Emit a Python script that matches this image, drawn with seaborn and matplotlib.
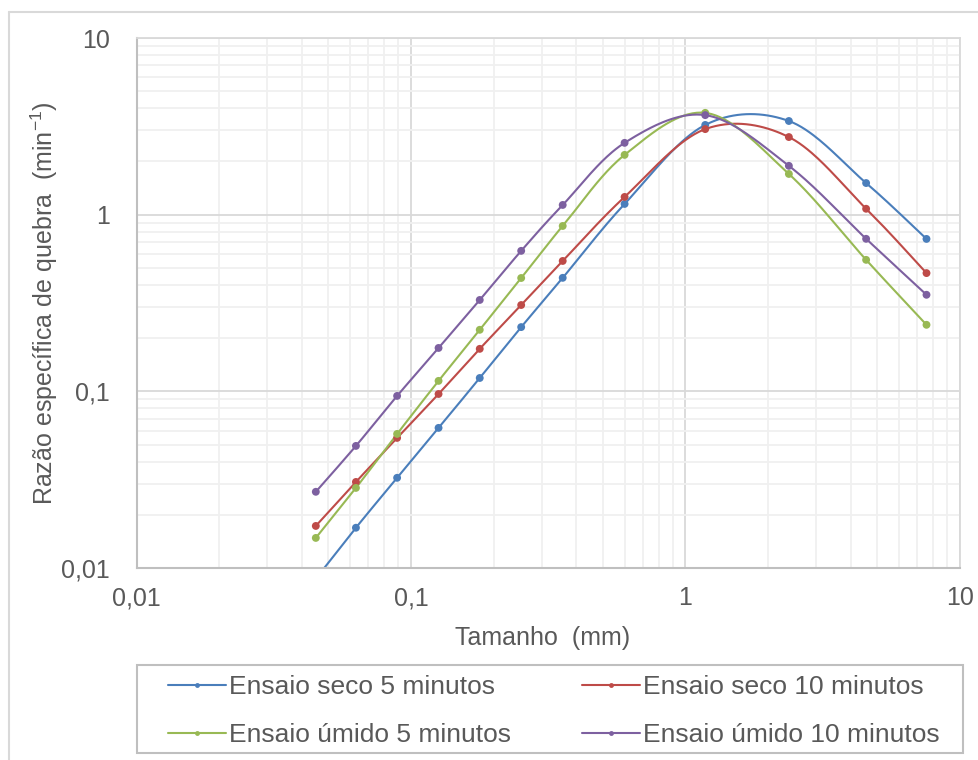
import numpy as np
import pandas as pd
import matplotlib
matplotlib.use("Agg")
import matplotlib.pyplot as plt
import seaborn as sns
from matplotlib.lines import Line2D
from matplotlib.patches import Rectangle
from matplotlib.ticker import FixedLocator, FixedFormatter, LogLocator, NullFormatter

# Particle size (mm) - geometric mean of each sieve interval
tamanho = [0.045, 0.063, 0.089, 0.126, 0.178, 0.252, 0.357, 0.60, 1.18, 2.38, 4.55, 7.55]

# Specific breakage rate (1/min)
seco_5 = [0.0087, 0.0169, 0.0324, 0.0621, 0.119, 0.231, 0.439, 1.15, 3.22, 3.39, 1.51, 0.729]
seco_10 = [0.0173, 0.0307, 0.0545, 0.0966, 0.174, 0.308, 0.547, 1.26, 3.05, 2.75, 1.08, 0.467]
umido_5 = [0.0148, 0.0284, 0.0574, 0.1146, 0.223, 0.438, 0.863, 2.18, 3.77, 1.70, 0.555, 0.238]
umido_10 = [0.0270, 0.0491, 0.0942, 0.176, 0.329, 0.624, 1.135, 2.55, 3.66, 1.89, 0.730, 0.352]

series_names = ["Ensaio seco 5 minutos", "Ensaio seco 10 minutos",
                "Ensaio úmido 5 minutos", "Ensaio úmido 10 minutos"]
series_values = [seco_5, seco_10, umido_5, umido_10]
colors = ["#4A7EBB", "#BE4B48", "#98B954", "#7D60A0"]

x_ticks = [0.01, 0.1, 1, 10]
x_tick_labels = ["0,01", "0,1", "1", "10"]
y_ticks = [0.01, 0.1, 1, 10]
y_tick_labels = ["0,01", "0,1", "1", "10"]


def smooth_curve(x, y, n=40):
    """Cubic Bezier smoothing (Catmull-Rom control points) in log-log space."""
    lx, ly = np.log10(x), np.log10(y)
    p = np.column_stack([lx, ly])
    out = []
    t = np.linspace(0, 1, n)[:, None]
    for i in range(len(p) - 1):
        p0 = p[i]
        p3 = p[i + 1]
        prev = p[i - 1] if i > 0 else p[i]
        nxt = p[i + 2] if i + 2 < len(p) else p[i + 1]
        c1 = p0 + (p3 - prev) / 6.0
        c2 = p3 - (nxt - p0) / 6.0
        seg = ((1 - t) ** 3) * p0 + 3 * ((1 - t) ** 2) * t * c1 + 3 * (1 - t) * t ** 2 * c2 + t ** 3 * p3
        out.append(seg if i == 0 else seg[1:])
    out = np.vstack(out)
    return 10 ** out[:, 0], 10 ** out[:, 1]


points = pd.DataFrame({
    "Tamanho": np.tile(tamanho, 4),
    "Razao": np.concatenate(series_values),
    "Serie": np.repeat(series_names, len(tamanho)),
})
curves = []
for name, vals in zip(series_names, series_values):
    sx, sy = smooth_curve(np.array(tamanho), np.array(vals))
    curves.append(pd.DataFrame({"Tamanho": sx, "Razao": sy, "Serie": name}))
curves = pd.concat(curves, ignore_index=True)

sns.set_theme(style="white")
plt.rcParams["font.family"] = ["Liberation Sans", "DejaVu Sans"]
plt.rcParams["mathtext.fontset"] = "custom"
plt.rcParams["mathtext.rm"] = "Liberation Sans"

W, H = 979, 760
fig = plt.figure(figsize=(W / 100, H / 100), dpi=100)
ax = fig.add_axes([136.5 / W, (H - 568) / H, (960 - 136.5) / W, (568 - 38) / H])

palette = dict(zip(series_names, colors))
sns.lineplot(data=curves, x="Tamanho", y="Razao", hue="Serie", palette=palette,
             sort=False, estimator=None, linewidth=1.5, legend=False, ax=ax)
sns.scatterplot(data=points, x="Tamanho", y="Razao", hue="Serie", palette=palette,
                s=32, edgecolor="none", legend=False, ax=ax, zorder=3)

ax.set_xscale("log")
ax.set_yscale("log")
ax.set_xlim(0.01, 10)
ax.set_ylim(0.01, 10)

text_color = "#595959"
major_grid = "#d9d9d9"
minor_grid = "#f0f0f0"
axis_color = "#bfbfbf"

ax.xaxis.set_major_locator(FixedLocator(x_ticks))
ax.xaxis.set_major_formatter(FixedFormatter(x_tick_labels))
ax.yaxis.set_major_locator(FixedLocator(y_ticks))
ax.yaxis.set_major_formatter(FixedFormatter(y_tick_labels))
ax.xaxis.set_minor_locator(LogLocator(base=10, subs=np.arange(2, 10)))
ax.yaxis.set_minor_locator(LogLocator(base=10, subs=np.arange(2, 10)))
ax.xaxis.set_minor_formatter(NullFormatter())
ax.yaxis.set_minor_formatter(NullFormatter())

ax.grid(True, which="major", color=major_grid, linewidth=1.3)
ax.grid(True, which="minor", color=minor_grid, linewidth=1.3)
ax.set_axisbelow(True)

for side in ["top", "right"]:
    ax.spines[side].set_color(major_grid)
    ax.spines[side].set_linewidth(1.3)
for side in ["left", "bottom"]:
    ax.spines[side].set_color(axis_color)
    ax.spines[side].set_linewidth(1.5)

ax.tick_params(axis="both", which="both", direction="out", color=axis_color, width=1.2,
               labelcolor=text_color, labelsize=18)
ax.tick_params(axis="both", which="major", length=6)
ax.tick_params(axis="both", which="minor", length=5)
ax.tick_params(axis="x", which="major", pad=7)
ax.tick_params(axis="y", which="major", pad=13)

ax.set_xlabel("Tamanho  (mm)", fontsize=18, color=text_color)
ax.set_ylabel(r"Razão específica de quebra  (min$^{\mathregular{-1}}$)", fontsize=18, color=text_color)
ax.xaxis.set_label_coords((543 - 136.5) / 823.5, (568 - 626) / 530)
ax.yaxis.set_label_coords((60 - 136.5) / 823.5, 0.5)

# Outer chart border
fig.add_artist(Line2D([9 / W, 9 / W], [0, 1 - 12 / H], transform=fig.transFigure,
                      color="#d9d9d9", linewidth=1.5))
fig.add_artist(Line2D([9 / W, 1], [1 - 12 / H, 1 - 12 / H], transform=fig.transFigure,
                      color="#d9d9d9", linewidth=1.5))

# Legend box
fig.add_artist(Rectangle((137 / W, (H - 753) / H), (963 - 137) / W, (753 - 665) / H,
                         transform=fig.transFigure, facecolor="white",
                         edgecolor=axis_color, linewidth=1.5))

# Legend entries filled column-wise so rows read: seco 5 | seco 10, úmido 5 | úmido 10
order = [0, 2, 1, 3]
handles = [Line2D([], [], color=colors[i], linewidth=1.5, marker="o", markersize=3.5,
                  markeredgewidth=0) for i in order]
labels = [series_names[i] for i in order]
leg = fig.legend(handles, labels, loc="upper left",
                 bbox_to_anchor=(168 / W, 1 - 675 / H), ncol=2, frameon=False,
                 fontsize=19, labelcolor=text_color, handlelength=2.2,
                 handletextpad=0.1, columnspacing=2.7, labelspacing=0.9,
                 borderpad=0, borderaxespad=0)

fig.savefig("out.png", dpi=100)
